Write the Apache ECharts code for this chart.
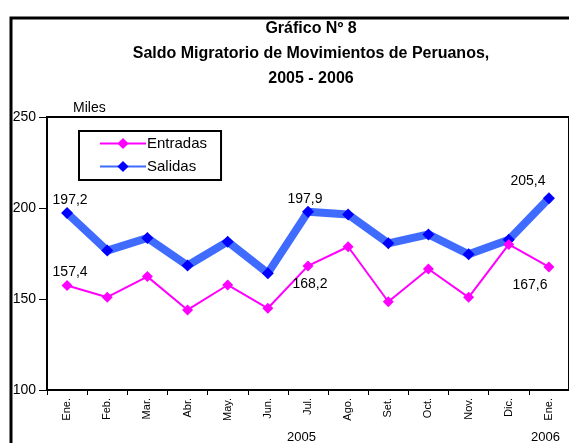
<!DOCTYPE html>
<html><head><meta charset="utf-8">
<script src="https://cdn.jsdelivr.net/npm/echarts@6/dist/echarts.min.js"></script>
<style>html,body{margin:0;padding:0;background:#fff}#c{width:569px;height:443px}</style>
</head><body><div id="c"></div>
<script>
var months = ['Ene.','Feb.','Mar.','Abr.','May.','Jun.','Jul.','Ago.','Set.','Oct.','Nov.','Dic.','Ene.'];
var entradas = [157.4,151.0,162.3,144.0,157.7,144.9,168.2,178.7,148.5,166.5,150.9,180.0,167.6];
var salidas = [197.2,176.6,183.5,168.4,181.5,164.2,197.9,196.4,180.6,185.5,174.6,182.6,205.4];
var yTicks = [100,150,200,250];
var FONT = "'Liberation Sans Narrow','Arial Narrow','Liberation Sans',Arial,sans-serif";

function lbl(v){ return String(v.toFixed(1)).replace('.',','); }

var entradasData = entradas.map(function(v,i){
  var d = {value:v};
  if(i===0) d.label={show:true,position:'top',distance:1,offset:[3,0],formatter:lbl(v)};
  if(i===6) d.label={show:true,position:'bottom',distance:6,offset:[2,0],formatter:lbl(v)};
  if(i===12) d.label={show:true,position:'bottom',distance:6,offset:[-19,0],formatter:lbl(v)};
  return d;
});
var salidasData = salidas.map(function(v,i){
  var d = {value:v};
  if(i===0) d.label={show:true,position:'top',distance:0,offset:[3,0],formatter:lbl(v)};
  if(i===6) d.label={show:true,position:'top',distance:0,offset:[-3,0],formatter:lbl(v)};
  if(i===12) d.label={show:true,position:'top',distance:4,offset:[-21,0],formatter:lbl(v)};
  return d;
});

var chart = echarts.init(document.getElementById('c'));
chart.setOption({
  animation:false,
  textStyle:{fontFamily:FONT},
  title:{
    text:'Gráfico Nº 8\nSaldo Migratorio de Movimientos de Peruanos,\n2005 - 2006',
    left:306, textAlign:'center', top:11,
    textStyle:{fontFamily:FONT,fontSize:16,fontWeight:'bold',color:'#000',lineHeight:25}
  },
  legend:{
    left:79, top:131, orient:'vertical',
    padding:[5,14,6,20], itemGap:8,
    borderColor:'#000', borderWidth:2,
    itemWidth:46, itemHeight:14,
    textStyle:{fontFamily:FONT,fontSize:15,color:'#000',padding:[0,0,0,-4]},
    data:['Entradas','Salidas']
  },
  grid:{left:47, right:-2, top:117, bottom:53, show:true, borderColor:'#000', borderWidth:2},
  xAxis:{
    type:'category', data:months, boundaryGap:true,
    axisLine:{lineStyle:{color:'#000',width:2}},
    axisTick:{show:true,inside:false,length:5,lineStyle:{color:'#000'}},
    axisLabel:{rotate:90,color:'#000',fontSize:11,fontFamily:FONT,margin:8,interval:0}
  },
  yAxis:{
    type:'value', min:yTicks[0], max:yTicks[yTicks.length-1], interval:50,
    splitLine:{show:false},
    axisLine:{show:true,lineStyle:{color:'#000',width:2}},
    axisTick:{show:true,length:8,lineStyle:{color:'#000'}},
    axisLabel:{color:'#000',fontSize:14,fontFamily:FONT,margin:11}
  },
  series:[
    {name:'Entradas',type:'line',data:entradasData,z:3,
     symbol:'diamond',symbolSize:11,
     lineStyle:{color:'#FF00FF',width:2},
     itemStyle:{color:'#FF00FF'},
     label:{color:'#000',fontSize:14,fontFamily:FONT}},
    {name:'Salidas',type:'line',data:salidasData,z:2,
     symbol:'diamond',symbolSize:12,
     lineStyle:{color:'#3F6BFF',width:8},
     itemStyle:{color:'#0000FF'},
     label:{color:'#000',fontSize:14,fontFamily:FONT}}
  ],
  graphic:[
    {type:'polyline',shape:{points:[[11,443],[11,18],[569,18]]},style:{stroke:'#000',lineWidth:3,fill:null}},
    {type:'text',left:73,top:101,style:{text:'Miles',font:'14px '+FONT,fill:'#000'}},
    {type:'text',left:287,top:431,style:{text:'2005',font:'13px '+FONT,fill:'#000'}},
    {type:'text',left:531,top:431,style:{text:'2006',font:'13px '+FONT,fill:'#000'}}
  ]
});
</script></body></html>
